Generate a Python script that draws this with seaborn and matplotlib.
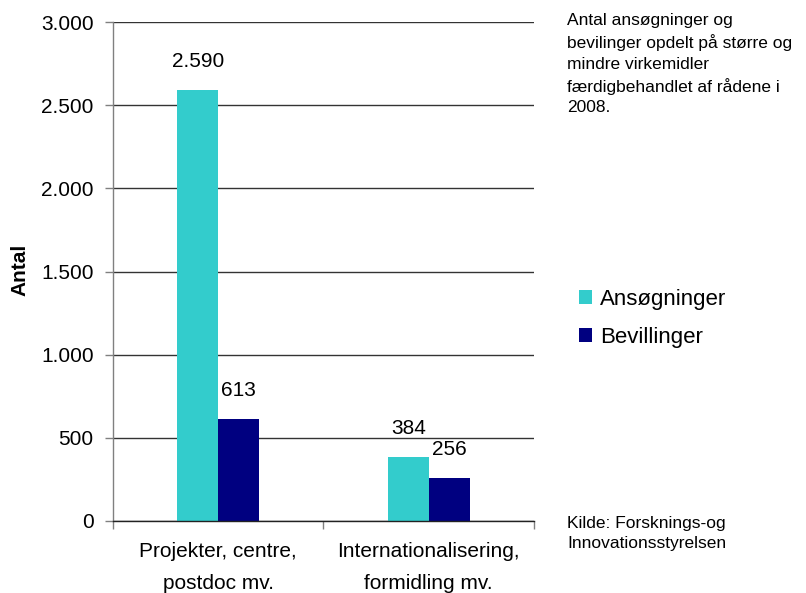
import matplotlib
matplotlib.use("Agg")
import matplotlib.pyplot as plt
import seaborn as sns
import pandas as pd
from matplotlib.ticker import FuncFormatter, FixedLocator
from matplotlib.patches import Patch

categories = ["Projekter, centre,\npostdoc mv.", "Internationalisering,\nformidling mv."]
series = ["Ansøgninger", "Bevillinger"]
ansoegninger = [2590, 384]
bevillinger = [613, 256]
colors = ["#33CCCC", "#000080"]
yticks = [0, 500, 1000, 1500, 2000, 2500, 3000]

df = pd.DataFrame({
    "Kategori": categories * 2,
    "Serie": [series[0]] * 2 + [series[1]] * 2,
    "Antal": ansoegninger + bevillinger,
})

sns.set_theme(style="white")
plt.rcParams["font.family"] = ["Liberation Sans", "DejaVu Sans"]
plt.rcParams["text.color"] = "black"

fig = plt.figure(figsize=(8.06, 5.93), dpi=100)
ax = fig.add_axes([113/806, 1-521/593, 421/806, 499/593])

sns.barplot(data=df, x="Kategori", y="Antal", hue="Serie", palette=colors,
            width=0.39, saturation=1, gap=0, ax=ax, legend=False, linewidth=0)

ax.set_ylim(0, 3000)
ax.set_xlim(-0.5, 1.5)
ax.yaxis.set_major_locator(FixedLocator(yticks))
fmt = lambda v, p=None: f"{int(v):,}".replace(",", ".")
ax.yaxis.set_major_formatter(FuncFormatter(fmt))
ax.yaxis.grid(True, color="#333333", lw=1)
ax.set_axisbelow(True)

for sp in ["top", "right"]:
    ax.spines[sp].set_visible(False)
ax.spines["left"].set_color("#808080")
ax.spines["bottom"].set_color("#222222")
ax.spines["left"].set_linewidth(1)
ax.spines["bottom"].set_linewidth(1)

ax.tick_params(axis="y", left=True, length=6, width=1, color="#808080",
               labelsize=15, pad=8, labelcolor="black")
ax.tick_params(axis="x", which="major", length=0, labelsize=15, pad=15, labelcolor="black")
ax.set_xticks([-0.5, 0.5, 1.5], minor=True)
ax.tick_params(axis="x", which="minor", bottom=True, length=6, width=1, color="#808080")
for lbl in ax.get_xticklabels():
    lbl.set_linespacing(1.85)

ax.set_xlabel("")
ax.set_ylabel("")
fig.text(20/806, 1-270/593, "Antal", rotation=90, ha="center", va="center",
         fontsize=15, fontweight="bold", color="black")

for cont in ax.containers:
    ax.bar_label(cont, labels=[fmt(b.get_height()) for b in cont], padding=14,
                 fontsize=15, color="black")

handles = [Patch(facecolor=c, edgecolor="none") for c in colors]
fig.legend(handles, series, loc="upper left", bbox_to_anchor=(579/806, 1-289/593),
           frameon=False, fontsize=16, handlelength=0.6, handleheight=0.6,
           handletextpad=0.35, labelspacing=0.75, borderpad=0, borderaxespad=0,
           labelcolor="black")

fig.text(567/806, 1-13/593,
         "Antal ansøgninger og\nbevilinger opdelt på større og\nmindre virkemidler\nfærdigbehandlet af rådene i\n2008.",
         ha="left", va="top", fontsize=12.5, linespacing=1.45)
fig.text(567/806, 1-516/593, "Kilde: Forsknings-og\nInnovationsstyrelsen",
         ha="left", va="top", fontsize=12.5, linespacing=1.45)

fig.savefig("out.png", dpi=100)
